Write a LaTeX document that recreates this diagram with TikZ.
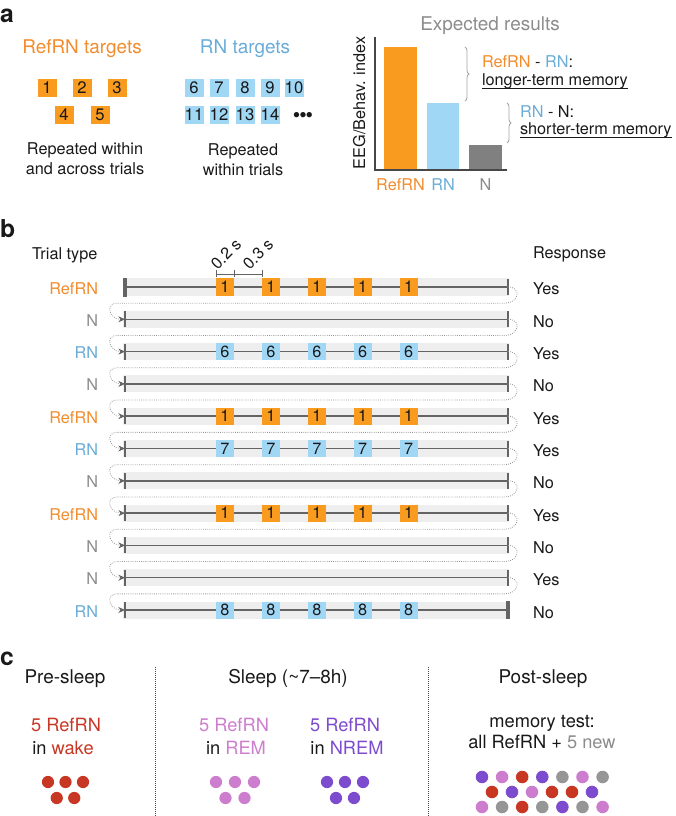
\documentclass[tikz,border=0pt]{standalone}
\usepackage{fontspec}
\setmainfont{TeX Gyre Heros}
\usetikzlibrary{arrows.meta,decorations.pathreplacing,calc}
\definecolor{txt}{RGB}{25,25,25}
\definecolor{orng}{RGB}{248,155,30}
\definecolor{orngtxt}{RGB}{242,140,45}
\definecolor{bluebox}{RGB}{160,215,245}
\definecolor{bluetxt}{RGB}{105,172,215}
\definecolor{graytxt}{RGB}{140,140,140}
\definecolor{graybar}{RGB}{128,128,128}
\definecolor{bandc}{RGB}{238,238,238}
\definecolor{linec}{RGB}{100,100,100}
\definecolor{loopcol}{RGB}{150,150,150}
\definecolor{bracec}{RGB}{165,165,165}
\definecolor{redc}{RGB}{200,55,35}
\definecolor{pinkc}{RGB}{205,125,205}
\definecolor{purpc}{RGB}{125,75,205}
\definecolor{dotgray}{RGB}{150,150,150}
\begin{document}
\begin{tikzpicture}[x=0.75pt,y=-0.75pt,
  every node/.style={inner sep=0pt,outer sep=0pt,text=txt},
  panel/.style={font=\fontsize{18.5pt}{20pt}\selectfont\bfseries},
  head/.style={font=\fontsize{14.2pt}{17pt}\selectfont},
  body/.style={font=\fontsize{12.2pt}{14pt}\selectfont},
  cbody/.style={font=\fontsize{13.7pt}{16pt}\selectfont},
  asq/.style={minimum width=14.25pt,minimum height=13.5pt,font=\fontsize{12.5pt}{13pt}\selectfont},
  bsq/.style={minimum width=13.5pt,minimum height=12.75pt,font=\fontsize{12.2pt}{13pt}\selectfont},
  rowline/.style={draw=linec,line width=1.1pt},
  tickc/.style={draw=linec,line width=1pt},
  loopc/.style={draw=loopcol,line width=0.6pt,dash pattern=on 0.6pt off 1pt,
     -{Stealth[length=5pt,width=4.5pt,color=linec]}},
  axisc/.style={draw=txt!80,line width=1pt},
  bracestyle/.style={draw=bracec,line width=0.6pt,decorate},
  vdot/.style={draw=txt!80,line width=0.6pt,dash pattern=on 0.6pt off 0.9pt},
  uline/.style={draw=txt,line width=0.6pt},
]
\useasboundingbox (0,0) rectangle (675,816);

% ---------------- panel a ----------------
\node[panel,anchor=base west] (la) at (0,23) {a};
\node[head,anchor=base,text=orngtxt] (reft) at (82,54) {RefRN targets};
\node[head,anchor=base,text=bluetxt] (rnt) at (245,54) {RN targets};

\foreach \n/\x/\y in {1/47/88,2/82/88,3/117/88,4/64/115,5/100/115}
  \node[asq,fill=orng] (a\n) at (\x,\y) {\n};
\foreach \n/\x/\y in {6/194/88,7/219/88,8/245/88,9/270/88,10/294/88,11/194/115,12/219/115,13/245/115,14/270/115}
  \node[asq,fill=bluebox] (a\n) at (\x,\y) {\n};
\node[font=\fontsize{16pt}{16pt}\selectfont] (dots) at (303,117) {\textbullet\kern-0.8pt\textbullet\kern-0.8pt\textbullet};

\node[body,anchor=base] (rep1a) at (85,155) {Repeated within};
\node[body,anchor=base] (rep1b) at (85,175) {and across trials};
\node[body,anchor=base] (rep2a) at (243,156) {Repeated};
\node[body,anchor=base] (rep2b) at (243,176) {within trials};

% chart
\node[head,anchor=base,text=graytxt] (exp) at (490,31) {Expected results};
\node[body,anchor=base,rotate=90] (ylab) at (365,103) {EEG/Behav. index};
\fill[orng] (384,47) rectangle (417,170);
\fill[bluebox] (427,103) rectangle (459,170);
\fill[graybar] (469,145) rectangle (502,170);
\coordinate (ax0) at (375,37);
\coordinate (ax1) at (375,170);
\coordinate (ax2) at (507,170);
\draw[axisc] (ax0) -- (ax1) -- (ax2);
\node[body,anchor=base,text=orngtxt] (bl1) at (400.5,191) {RefRN};
\node[body,anchor=base,text=bluetxt] (bl2) at (443,191) {RN};
\node[body,anchor=base,text=graytxt] (bl3) at (485.5,191) {N};

\coordinate (br1a) at (465,47);
\coordinate (br1b) at (465,101);
\draw[bracestyle,decoration={brace,amplitude=3pt}] (br1a) -- (br1b);
\coordinate (br2a) at (507,103);
\coordinate (br2b) at (507,143);
\draw[bracestyle,decoration={brace,amplitude=3pt}] (br2a) -- (br2b);
\node[body,anchor=base west] (d1a) at (482,68) {\textcolor{orngtxt}{RefRN} - \textcolor{bluetxt}{RN}:};
\node[body,anchor=base west] (d1b) at (482,86) {longer-term memory};
\node[body,anchor=base west] (d2a) at (520,118) {\textcolor{bluetxt}{RN} - N:};
\node[body,anchor=base west] (d2b) at (520,135) {shorter-term memory};
\draw[uline] ($(d1b.base west)+(0,2.6)$) -- ($(d1b.base east)+(0,2.6)$);
\draw[uline] ($(d2b.base west)+(0,2.6)$) -- ($(d2b.base east)+(0,2.6)$);

% ---------------- panel b ----------------
\node[panel,anchor=base west] (lb) at (0,238) {b};
\node[body,anchor=base west] (ttype) at (32,260) {Trial type};
\node[body,anchor=base west] (resph) at (533,259) {Response};

\foreach \i/\lab/\col/\resp in {1/RefRN/orngtxt/Yes,2/N/graytxt/No,3/RN/bluetxt/Yes,4/N/graytxt/No,5/RefRN/orngtxt/Yes,6/RN/bluetxt/Yes,7/N/graytxt/No,8/RefRN/orngtxt/Yes,9/N/graytxt/No,10/N/graytxt/Yes,11/RN/bluetxt/No}{
  \pgfmathsetmacro\yy{287+32.3*(\i-1)}
  \fill[bandc] (123,\yy-8.5) rectangle (509,\yy+8.5);
  \coordinate (rS\i) at (125,\yy);
  \coordinate (rE\i) at (508,\yy);
  \draw[rowline] (rS\i) -- (rE\i);
  \node[body,anchor=base east,text=\col] (tt\i) at (98,\yy+7) {\lab};
  \node[body,anchor=base west] (rp\i) at (533,\yy+8) {\resp};
}
% start / end bars and ticks
\fill[linec] (123,278) rectangle (127,297);
\fill[linec] (506,601) rectangle (510,619);
\foreach \i in {2,...,11}
  \draw[tickc] ($(rS\i)+(0,-8)$) -- ($(rS\i)+(0,8)$);
\foreach \i in {1,...,10}
  \draw[tickc] ($(rE\i)+(0,-8)$) -- ($(rE\i)+(0,8)$);

% stimulus squares
\foreach \r/\d/\c in {1/1/orng,3/6/bluebox,5/1/orng,6/7/bluebox,8/1/orng,11/8/bluebox}{
  \foreach \k in {0,...,4}{
    \node[bsq,fill=\c] (q\r-\k) at ({225+45.9*\k},{287+32.3*(\r-1)}) {\d};
  }
}

% loops between trials
\foreach \i [evaluate=\i as \j using int(\i+1)] in {1,...,10}{
  \draw[loopc] (rE\i) .. controls +(14,0) and +(14,0) .. ($(rE\i)+(-3,16.15)$)
     -- ($(rS\j)+(-8,-16.15)$) .. controls +(-12,0) and +(-16,0) .. (rS\j);
}

% timing marker
\coordinate (m0) at (216,274);
\coordinate (m1) at (234,274);
\coordinate (m2) at (262,274);
\draw[linec,line width=0.7pt] (m0) -- (m2);
\foreach \m in {m0,m1,m2}
  \draw[linec,line width=0.7pt] ($(\m)+(0,-3.5)$) -- ($(\m)+(0,3.5)$);
\node[body,rotate=45] (t02) at (226,254) {0.2 s};
\node[body,rotate=45] (t03) at (258,254) {0.3 s};

% ---------------- panel c ----------------
\node[panel,anchor=base west] (lc) at (0,665) {c};
\coordinate (v1a) at (155,667);
\coordinate (v1b) at (155,816);
\coordinate (v2a) at (428,667);
\coordinate (v2b) at (428,816);
\draw[vdot] (v1a) -- (v1b);
\draw[vdot] (v2a) -- (v2b);

\node[head,anchor=base] (pre) at (65,683) {Pre-sleep};
\node[head,anchor=base] (slp) at (288,683) {Sleep (\textasciitilde7--8h)};
\node[head,anchor=base] (post) at (543,683) {Post-sleep};

\node[cbody,anchor=base,text=redc] (w1) at (66,731) {5 RefRN};
\node[cbody,anchor=base] (w2) at (63,754) {in \textcolor{redc}{wake}};
\node[cbody,anchor=base,text=pinkc] (r1) at (234,731) {5 RefRN};
\node[cbody,anchor=base] (r2) at (236,754) {in \textcolor{pinkc}{REM}};
\node[cbody,anchor=base,text=purpc] (n1) at (345,731) {5 RefRN};
\node[cbody,anchor=base] (n2) at (347,754) {in \textcolor{purpc}{NREM}};
\node[cbody,anchor=base] (m1t) at (542,727) {memory test:};
\node[cbody,anchor=base] (m2t) at (542,748) {all RefRN + \textcolor{graytxt}{5 new}};

% dots
\foreach \x/\y in {48/782,65.5/782,83/782,56.75/798,74.25/798}
  \fill[redc] (\x,\y) circle (4.6pt);
\foreach \x/\y in {216/782,235/782,254/782,225.5/798,244.5/798}
  \fill[pinkc] (\x,\y) circle (4.6pt);
\foreach \x/\y in {327/782,345/782,363/782,336/798,354/798}
  \fill[purpc] (\x,\y) circle (4.6pt);

\foreach \c [count=\k from 0] in {purpc,pinkc,redc,purpc,dotgray,pinkc,dotgray}
  \fill[\c] ({482+20.1*\k},777) circle (4.7pt);
\foreach \c [count=\k from 0] in {redc,purpc,pinkc,redc,redc,purpc}
  \fill[\c] ({492+20.0*\k},792) circle (4.7pt);
\foreach \c [count=\k from 0] in {pinkc,dotgray,redc,dotgray,purpc,dotgray,pinkc}
  \fill[\c] ({482+20.1*\k},807) circle (4.7pt);
\end{tikzpicture}
\end{document}
